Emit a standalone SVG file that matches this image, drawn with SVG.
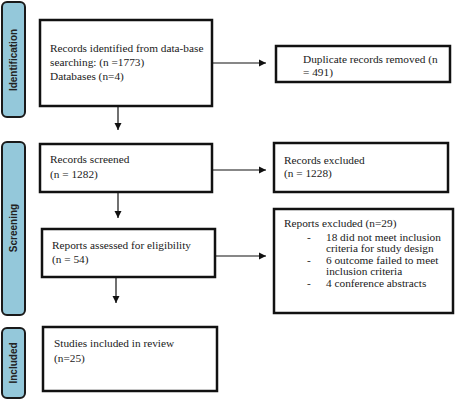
<svg xmlns="http://www.w3.org/2000/svg" width="456" height="400" viewBox="0 0 456 400">
<style>
.bar{fill:#94c8da;stroke:#1a1a1a;stroke-width:2}
.box{fill:#fff;stroke:#111;stroke-width:2.5}
.lbl{font-family:"Liberation Sans",Arial,sans-serif;font-weight:bold;font-size:10px;fill:#222;text-anchor:middle}
.t{font-family:"Liberation Serif","Times New Roman",serif;font-size:11.3px;fill:#1a1a1a}
.c{stroke:#111;stroke-width:1.2;fill:none}
</style>
<defs>
<marker id="ah" markerWidth="8" markerHeight="8" refX="7" refY="4" orient="auto" markerUnits="userSpaceOnUse">
<path d="M0,0.5 L7,4 L0,7.5 z" fill="#111"/>
</marker>
</defs>
<rect width="456" height="400" fill="#fff"/>
<g id="bar-identification">
<rect class="bar" x="2" y="2" width="23" height="115" rx="5"/>
<text class="lbl" transform="translate(17,60) rotate(-90)">Identification</text>
</g>
<g id="bar-screening">
<rect class="bar" x="2" y="142" width="23" height="173" rx="5"/>
<text class="lbl" transform="translate(17,228) rotate(-90)">Screening</text>
</g>
<g id="bar-included">
<rect class="bar" x="2" y="328" width="23" height="70" rx="5"/>
<text class="lbl" transform="translate(17,363) rotate(-90)">Included</text>
</g>
<g id="connectors">
<line class="c" x1="212" y1="63" x2="266" y2="63" marker-end="url(#ah)"/>
<line class="c" x1="118" y1="106" x2="118" y2="130" marker-end="url(#ah)"/>
<line class="c" x1="212" y1="170" x2="266" y2="170" marker-end="url(#ah)"/>
<line class="c" x1="118" y1="192" x2="118" y2="218" marker-end="url(#ah)"/>
<line class="c" x1="215" y1="256" x2="266" y2="256" marker-end="url(#ah)"/>
<line class="c" x1="116" y1="277" x2="116" y2="303" marker-end="url(#ah)"/>
</g>
<g id="node-identified">
<rect class="box" x="40" y="20" width="172" height="86"/>
<text class="t" x="50" y="52">Records identified from data-base</text>
<text class="t" x="50" y="66">searching: (n =1773)</text>
<text class="t" x="50" y="80">Databases (n=4)</text>
</g>
<g id="node-duplicates">
<rect class="box" x="276" y="46" width="174" height="36"/>
<text class="t" x="303" y="63">Duplicate records removed (n</text>
<text class="t" x="303" y="76">= 491)</text>
</g>
<g id="node-screened">
<rect class="box" x="40" y="144" width="172" height="48"/>
<text class="t" x="50" y="163">Records screened</text>
<text class="t" x="50" y="178">(n = 1282)</text>
</g>
<g id="node-excluded">
<rect class="box" x="274" y="143" width="174" height="49"/>
<text class="t" x="284" y="164">Records excluded</text>
<text class="t" x="284" y="177">(n = 1228)</text>
</g>
<g id="node-assessed">
<rect class="box" x="42" y="229" width="173" height="48"/>
<text class="t" x="52" y="249">Reports assessed for eligibility</text>
<text class="t" x="52" y="263">(n = 54)</text>
</g>
<g id="node-reports-excluded">
<rect class="box" x="274" y="209" width="179" height="104"/>
<text class="t" x="284" y="227">Reports excluded (n=29)</text>
<text class="t" x="307" y="241">-</text>
<text class="t" x="326" y="241">18 did not meet inclusion</text>
<text class="t" x="326" y="252">criteria for study design</text>
<text class="t" x="307" y="264">-</text>
<text class="t" x="326" y="264">6 outcome failed to meet</text>
<text class="t" x="326" y="275">inclusion criteria</text>
<text class="t" x="307" y="287">-</text>
<text class="t" x="326" y="287">4 conference abstracts</text>
</g>
<g id="node-included">
<rect class="box" x="43" y="327" width="174" height="64"/>
<text class="t" x="54" y="347">Studies included in review</text>
<text class="t" x="54" y="362">(n=25)</text>
</g>
</svg>
